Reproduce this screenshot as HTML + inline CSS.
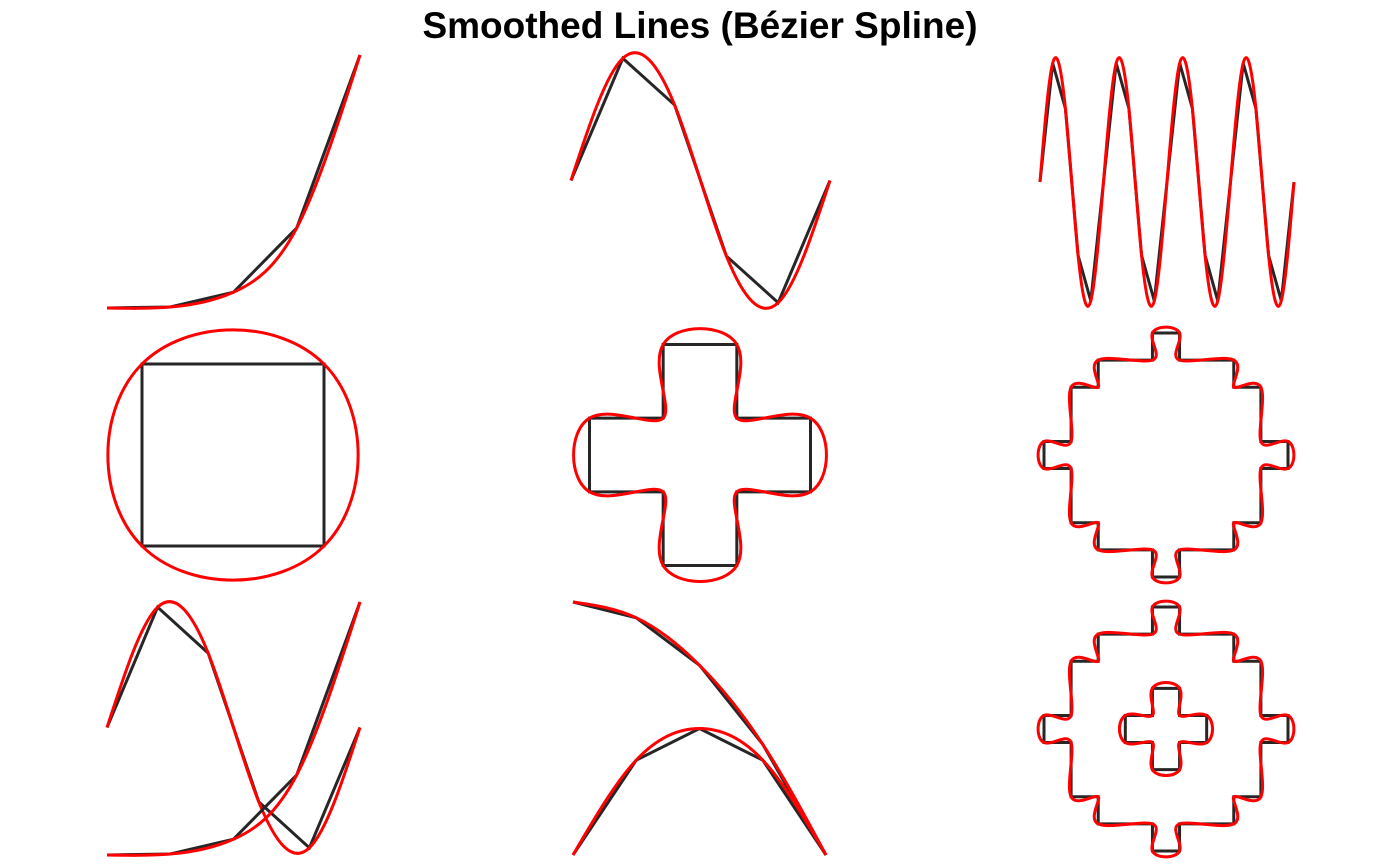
<!DOCTYPE html>
<html><head><meta charset="utf-8"><style>
html,body{margin:0;padding:0;background:#fff;}
svg{display:block;}
</style></head><body>
<svg id="chart" width="1400" height="865" viewBox="0 0 1400 865">
<text x="700" y="38" text-anchor="middle" font-family="'Liberation Sans', sans-serif" font-weight="bold" font-size="37" fill="#000">Smoothed Lines (Bézier Spline)</text>
<g id="plots"></g>
</svg>
<script>
// ---- data ----
const quarticX = [0, 0.25, 0.5, 0.75, 1];
const quarticY = [0, 0.0039, 0.0625, 0.3164, 1];
const sineX = [0, 0.2, 0.4, 0.6, 0.8, 1];
const sineY = [0, 0.951, 0.588, -0.588, -0.951, 0];
const sine4X = [0,0.05,0.1,0.15,0.2,0.25,0.3,0.35,0.4,0.45,0.5,0.55,0.6,0.65,0.7,0.75,0.8,0.85,0.9,0.95,1];
const sine4Y = [0,0.951,0.588,-0.588,-0.951,0,0.951,0.588,-0.588,-0.951,0,0.951,0.588,-0.588,-0.951,0,0.951,0.588,-0.588,-0.951,0];
const squareX = [-1, 1, 1, -1];
const squareY = [1, 1, -1, -1];
const crossX = [-0.5,0.5,0.5,1.5,1.5,0.5,0.5,-0.5,-0.5,-1.5,-1.5,-0.5];
const crossY = [1.5,1.5,0.5,0.5,-0.5,-0.5,-1.5,-1.5,-0.5,-0.5,0.5,0.5];
const gearX = [-0.5,0.5,0.5,2.5,2.5,3.5,3.5,4.5,4.5,3.5,3.5,2.5,2.5,0.5,0.5,-0.5,-0.5,-2.5,-2.5,-3.5,-3.5,-4.5,-4.5,-3.5,-3.5,-2.5,-2.5,-0.5];
const gearY = [4.5,4.5,3.5,3.5,2.5,2.5,0.5,0.5,-0.5,-0.5,-2.5,-2.5,-3.5,-3.5,-4.5,-4.5,-3.5,-3.5,-2.5,-2.5,-0.5,-0.5,0.5,0.5,2.5,2.5,3.5,3.5];
const parabolaX = [0, 0.25, 0.5, 0.75, 1];
const parabolaDownY = [1, 0.9375, 0.75, 0.4375, 0];
const parabolaArchY = [0, 0.375, 0.5, 0.375, 0];

const NS = 'http://www.w3.org/2000/svg';
const root = document.getElementById('plots');

function axisLinear(d0, d1, p0, p1){ return v => p0 + (v - d0) / (d1 - d0) * (p1 - p0); }

function solve(A, b){
  const n = b.length;
  A = A.map(r => r.slice()); b = b.slice();
  for (let i = 0; i < n; i++){
    let p = i;
    for (let r = i + 1; r < n; r++) if (Math.abs(A[r][i]) > Math.abs(A[p][i])) p = r;
    [A[i], A[p]] = [A[p], A[i]]; [b[i], b[p]] = [b[p], b[i]];
    for (let r = i + 1; r < n; r++){
      const f = A[r][i] / A[i][i];
      if (!f) continue;
      for (let c = i; c < n; c++) A[r][c] -= f * A[i][c];
      b[r] -= f * b[i];
    }
  }
  const x = new Array(n).fill(0);
  for (let i = n - 1; i >= 0; i--){
    let s = b[i];
    for (let c = i + 1; c < n; c++) s -= A[i][c] * x[c];
    x[i] = s / A[i][i];
  }
  return x;
}
function derivs(v, closed){
  const n = v.length;
  const A = [], b = [];
  for (let i = 0; i < n; i++){
    const row = new Array(n).fill(0);
    if (closed){
      row[(i - 1 + n) % n] += 1; row[i] += 4; row[(i + 1) % n] += 1;
      b.push(3 * (v[(i + 1) % n] - v[(i - 1 + n) % n]));
    } else if (i === 0){
      row[0] = 2; row[1] = 1; b.push(3 * (v[1] - v[0]));
    } else if (i === n - 1){
      row[n - 2] = 1; row[n - 1] = 2; b.push(3 * (v[n - 1] - v[n - 2]));
    } else {
      row[i - 1] = 1; row[i] = 4; row[i + 1] = 1; b.push(3 * (v[i + 1] - v[i - 1]));
    }
    A.push(row);
  }
  return solve(A, b);
}

function polyPath(pts, closed){
  let d = 'M' + pts.map(p => p[0].toFixed(2) + ',' + p[1].toFixed(2)).join('L');
  return closed ? d + 'Z' : d;
}
function splinePath(pts, closed){
  const n = pts.length;
  const dx = derivs(pts.map(p => p[0]), closed);
  const dy = derivs(pts.map(p => p[1]), closed);
  let d = 'M' + pts[0][0].toFixed(2) + ',' + pts[0][1].toFixed(2);
  const segs = closed ? n : n - 1;
  for (let i = 0; i < segs; i++){
    const j = (i + 1) % n;
    const c1 = [pts[i][0] + dx[i] / 3, pts[i][1] + dy[i] / 3];
    const c2 = [pts[j][0] - dx[j] / 3, pts[j][1] - dy[j] / 3];
    d += 'C' + c1.map(v => v.toFixed(2)).join(',') + ' ' + c2.map(v => v.toFixed(2)).join(',') + ' ' + pts[j].map(v => v.toFixed(2)).join(',');
  }
  return closed ? d + 'Z' : d;
}

function drawSeries(name, xs, ys, sx, sy, closed){
  const pts = xs.map((x, i) => [sx(x), sy(ys[i])]);
  const g = document.createElementNS(NS, 'g');
  
  
  const a = document.createElementNS(NS, 'path');
  a.setAttribute('d', polyPath(pts, closed));
  a.setAttribute('fill', 'none'); a.setAttribute('stroke', '#262626'); a.setAttribute('stroke-width', '3');
  
  
  const b = document.createElementNS(NS, 'path');
  b.setAttribute('d', splinePath(pts, closed));
  b.setAttribute('fill', 'none'); b.setAttribute('stroke', '#ff0000'); b.setAttribute('stroke-width', '3');
  
  
  g.appendChild(a); g.appendChild(b);
  root.appendChild(g);
}

// Row 1
drawSeries('quartic-curve', quarticX, quarticY, axisLinear(0,1,107,360), axisLinear(0,1,308,55), false);
drawSeries('sine-curve', sineX, sineY, axisLinear(0,1,571,830), axisLinear(-1,1,309,52), false);
drawSeries('sine-4-periods', sine4X, sine4Y, axisLinear(0,1,1040,1294), axisLinear(-1,1,307,57), false);
// Row 2
drawSeries('square-shape', squareX, squareY, axisLinear(-1,1,142,324), axisLinear(-1,1,546,364), true);
drawSeries('cross-shape', crossX, crossY, axisLinear(-1.5,1.5,589.5,810.5), axisLinear(-1.5,1.5,565.5,344.5), true);
drawSeries('gear-shape', gearX, gearY, axisLinear(-4.5,4.5,1044,1288), axisLinear(-4.5,4.5,577,333), true);
// Row 3
drawSeries('combined-sine', sineX, sineY, axisLinear(0,1,107,360), axisLinear(-1,1,854,601), false);
drawSeries('combined-quartic', quarticX, quarticY, axisLinear(0,1,107,360), axisLinear(0,1,855,602), false);
drawSeries('parabola-down', parabolaX, parabolaDownY, axisLinear(0,1,573,826), axisLinear(0,1,855,602), false);
drawSeries('parabola-arch', parabolaX, parabolaArchY, axisLinear(0,1,573,826), axisLinear(0,1,855,602), false);
drawSeries('gear-outer', gearX, gearY, axisLinear(-4.5,4.5,1044,1288), axisLinear(-4.5,4.5,851,607), true);
drawSeries('gear-inner-cross', crossX, crossY, axisLinear(-4.5,4.5,1044,1288), axisLinear(-4.5,4.5,851,607), true);
</script>
</body></html>
